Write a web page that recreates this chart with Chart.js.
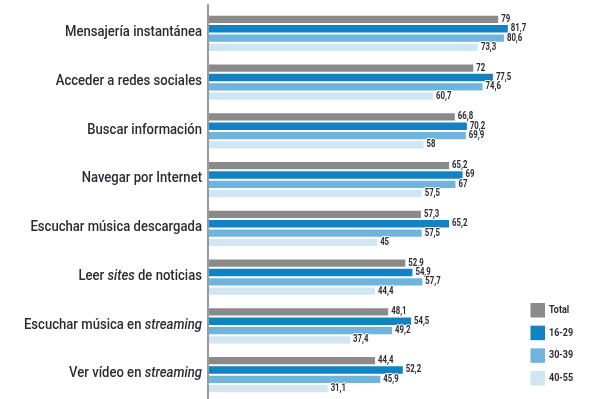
<!DOCTYPE html>
<html>
<head>
<meta charset="utf-8">
<script src="https://cdn.jsdelivr.net/npm/chart.js@4/dist/chart.umd.min.js"></script>
<style>
  html, body { margin: 0; padding: 0; background: #fff; }
  #wrap { position: relative; width: 589px; height: 399px; }
</style>
</head>
<body>
<div id="wrap"><canvas id="grafico"></canvas></div>
<script>
  // actividades (lo que va entre *...* se escribe en cursiva)
  const actividades = ["Mensajería instantánea", "Acceder a redes sociales", "Buscar información", "Navegar por Internet",
    "Escuchar música descargada", "Leer *sites* de noticias", "Escuchar música en *streaming*", "Ver vídeo en *streaming*"];
  const grupos = ["Total", "16-29", "30-39", "40-55"];
  const total = [79, 72, 66.8, 65.2, 57.3, 52.9, 48.1, 44.4];
  const edad16_29 = [81.7, 77.5, 70.2, 69, 65.2, 54.9, 54.5, 52.2];
  const edad30_39 = [80.6, 74.6, 69.9, 67, 57.5, 57.7, 49.2, 45.9];
  const edad40_55 = [73.3, 60.7, 58, 57.5, 45, 44.4, 37.4, 31.1];
  const colores = ["#8a8a8a", "#1282c2", "#70b4dc", "#d0e6f3"];

  const TEXTO = "#2b2b36";
  const FUENTE_EJE = "500 15px Roboto";

  // texto estrechado en horizontal (la tipografía original es condensada)
  function textoEstrecho(ctx, partes, xDer, y, sx, fuente, halo) {
    let ancho = 0;
    const medidas = partes.map((p, k) => {
      ctx.font = (k % 2 ? "italic " : "") + fuente;
      const w = ctx.measureText(p).width;
      ancho += w;
      return w;
    });
    ctx.save();
    ctx.translate(xDer, y);
    ctx.scale(sx, 1);
    let x = -ancho;
    partes.forEach((p, k) => {
      ctx.font = (k % 2 ? "italic " : "") + fuente;
      if (halo) ctx.strokeText(p, x, 0);
      ctx.fillText(p, x, 0);
      x += medidas[k];
    });
    ctx.restore();
  }

  // eje vertical y nombres de las actividades
  const etiquetasEje = {
    id: "etiquetasEje",
    afterDraw(chart) {
      const ctx = chart.ctx, ejeY = chart.scales.y, area = chart.chartArea;
      ctx.save();
      ctx.strokeStyle = "#9a9a9a";
      ctx.lineWidth = 2;
      ctx.beginPath();
      ctx.moveTo(area.left - 1, 4);
      ctx.lineTo(area.left - 1, chart.height);
      ctx.stroke();

      // estrechamiento: la primera etiqueta ocupa unos 137 px
      ctx.font = FUENTE_EJE;
      const sx = 137 / ctx.measureText(actividades[0]).width;

      ctx.fillStyle = TEXTO;
      ctx.textBaseline = "middle";
      actividades.forEach((txt, i) => {
        textoEstrecho(ctx, txt.split("*"), area.left - 7, ejeY.getPixelForTick(i) - 1, sx, FUENTE_EJE, false);
      });
      ctx.restore();
    }
  };

  // valor al final de cada barra
  const valores = {
    id: "valores",
    afterDatasetsDraw(chart) {
      const ctx = chart.ctx;
      ctx.save();
      ctx.fillStyle = TEXTO;
      ctx.strokeStyle = "#fff";
      ctx.lineWidth = 2;
      ctx.lineJoin = "round";
      ctx.textBaseline = "middle";
      chart.data.datasets.forEach((ds, i) => {
        chart.getDatasetMeta(i).data.forEach((bar, j) => {
          const txt = String(ds.data[j]).replace(".", ",");
          ctx.font = "bold 10px Roboto";
          const w = ctx.measureText(txt).width * 0.78;
          textoEstrecho(ctx, [txt], bar.x + 2 + w, bar.y, 0.78, "bold 10px Roboto", true);
        });
      });
      ctx.restore();
    }
  };

  // leyenda en columna, abajo a la derecha
  const leyenda = {
    id: "leyenda",
    afterDraw(chart) {
      const ctx = chart.ctx;
      ctx.save();
      ctx.textBaseline = "middle";
      chart.data.datasets.forEach((ds, i) => {
        const top = 303 + i * 22.67;
        ctx.fillStyle = ds.backgroundColor;
        ctx.fillRect(530.5, top, 14.5, 14.5);
        ctx.fillStyle = TEXTO;
        ctx.font = "bold 10px Roboto";
        const w = ctx.measureText(ds.label).width * 0.9;
        textoEstrecho(ctx, [ds.label], 549 + w, top + 7.5, 0.9, "bold 10px Roboto", false);
      });
      ctx.restore();
    }
  };

  const series = [total, edad16_29, edad30_39, edad40_55];

  new Chart(document.getElementById("grafico"), {
    type: "bar",
    data: {
      labels: actividades,
      datasets: series.map((d, i) => ({
        label: grupos[i],
        data: d,
        backgroundColor: colores[i],
        borderColor: "rgba(255,255,255,0.45)",
        borderWidth: 1,
        base: -2.5,
        categoryPercentage: 0.763,
        barPercentage: 1
      }))
    },
    options: {
      indexAxis: "y",
      responsive: true,
      maintainAspectRatio: false,
      animation: false,
      layout: { padding: { top: 9, right: 15, bottom: 0, left: 0 } },
      scales: {
        x: { display: false, min: -2.5, max: 100 },
        y: {
          grid: { display: false },
          border: { display: false },
          ticks: { display: false },
          afterFit: (s) => { s.width = 209; }
        }
      },
      plugins: {
        legend: { display: false },
        tooltip: { enabled: false }
      }
    },
    plugins: [etiquetasEje, valores, leyenda]
  });
</script>
</body>
</html>
